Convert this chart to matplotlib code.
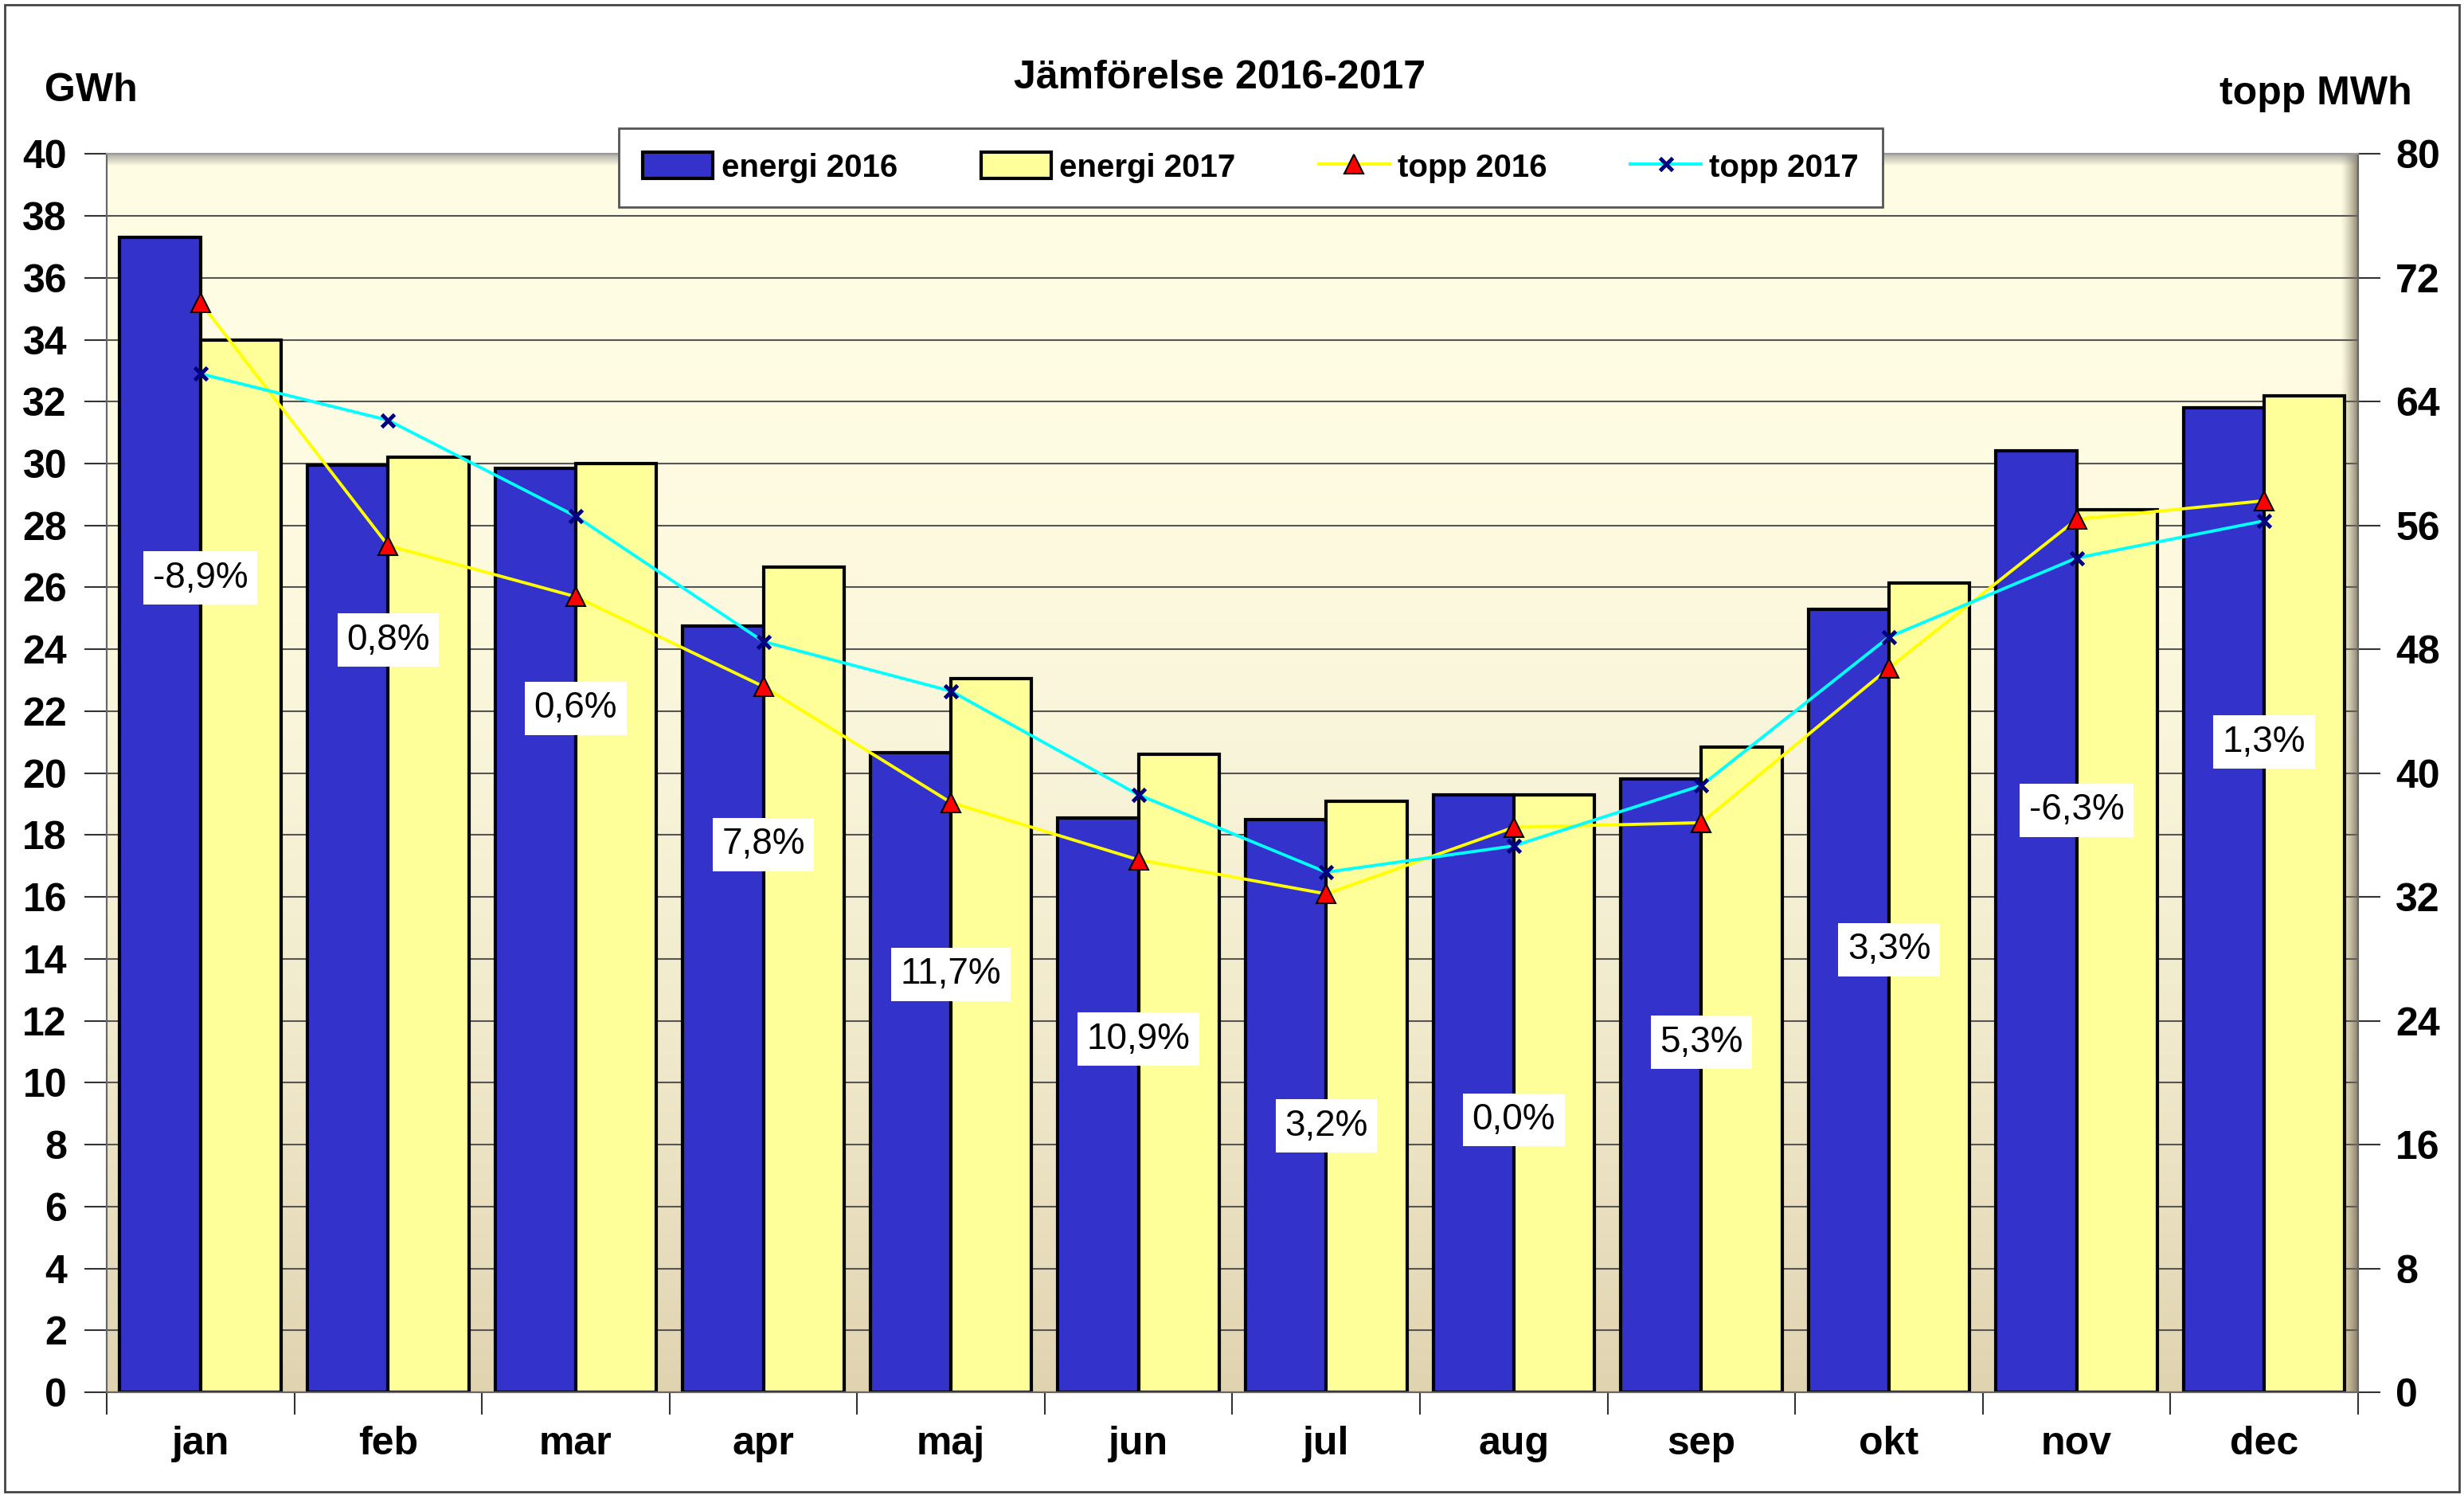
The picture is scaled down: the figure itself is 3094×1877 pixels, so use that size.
import matplotlib.pyplot as plt
import matplotlib.patches as mpatches
from matplotlib.lines import Line2D
import numpy as np

plt.rcParams['font.family'] = ['Liberation Sans', 'DejaVu Sans']

months = ['jan', 'feb', 'mar', 'apr', 'maj', 'jun', 'jul', 'aug', 'sep', 'okt', 'nov', 'dec']
energi_2016 = [37.3, 29.95, 29.85, 24.75, 20.65, 18.55, 18.5, 19.3, 19.8, 25.3, 30.4, 31.8]
energi_2017 = [34.0, 30.2, 30.0, 26.65, 23.05, 20.6, 19.1, 19.3, 20.85, 26.15, 28.5, 32.2]
topp_2016 = [70.4, 54.7, 51.4, 45.6, 38.1, 34.4, 32.2, 36.5, 36.8, 46.8, 56.4, 57.6]
topp_2017 = [65.8, 62.8, 56.6, 48.5, 45.3, 38.6, 33.6, 35.3, 39.2, 48.8, 53.9, 56.3]
pct_labels = ['-8,9%', '0,8%', '0,6%', '7,8%', '11,7%', '10,9%', '3,2%', '0,0%', '5,3%', '3,3%', '-6,3%', '1,3%']
pct_height = [26.3, 24.3, 22.1, 17.7, 13.5, 11.4, 8.6, 8.8, 11.3, 14.3, 18.8, 21.0]

fig = plt.figure(figsize=(30.94, 18.77), dpi=100)
ax = fig.add_axes([0.0433, 0.0687, 0.9137, 0.8283])
ax2 = ax.twinx()

x = np.arange(len(months))
w = 0.43

# background gradient of the plot area
t = np.linspace(0, 1, 256)[:, None] ** 2.2
top = np.array([1.0, 0.992, 0.894])
bot = np.array([0.878, 0.827, 0.690])
grad = top * (1 - t) + bot * t
ax.imshow(grad[:, None, :].repeat(2, axis=1), extent=[0, 1, 0, 1], transform=ax.transAxes,
          aspect='auto', zorder=0, interpolation='bilinear')

ax.bar(x - w / 2, energi_2016, w, color='#3333CC', edgecolor='black', linewidth=3, zorder=3)
ax.bar(x + w / 2, energi_2017, w, color='#FFFF99', edgecolor='black', linewidth=3, zorder=3)

ax.set_xlim(-0.5, 11.5)
ax.set_ylim(0, 40)
ax.set_yticks(np.arange(0, 41, 2))
ax.yaxis.grid(True, color='#555555', linewidth=1.5, zorder=1)
ax.set_axisbelow(True)
ax.set_xticks(np.arange(-0.5, 12, 1))
ax.set_xticklabels([])
ax.set_xticks(x, minor=True)
ax.set_xticklabels(months, minor=True, fontsize=36, fontweight='bold')
ax.tick_params(axis='x', which='major', length=20, width=1.5, color='#333333')
ax.tick_params(axis='x', which='minor', length=0, pad=30)
ax.tick_params(axis='y', length=20, width=1.5, labelsize=36, pad=16, color='#333333')
for lab in ax.get_yticklabels():
    lab.set_fontweight('bold')

# right shadow and top bevel of the plot area
shade = np.linspace(0, 1, 64)[None, :] ** 1.5
shadow = np.ones((2, 64, 4))
shadow[..., :3] = [0.45, 0.40, 0.32]
shadow[..., 3] = shade * 0.8
ax.imshow(shadow, extent=[0.992, 1.0, 0, 1], transform=ax.transAxes, aspect='auto', zorder=4)
topband = np.ones((16, 2, 4))
topband[..., :3] = 0.55
topband[..., 3] = np.linspace(0.7, 0, 16)[:, None]
ax.imshow(topband, extent=[0, 1, 0.99, 1.0], transform=ax.transAxes, aspect='auto', zorder=4)
ax.set_xlim(-0.5, 11.5)
ax.set_ylim(0, 40)

ax2.plot(x, topp_2016, color='#FFFF00', linewidth=2.8, marker='^', markersize=17,
         markerfacecolor='#FF0000', markeredgecolor='black', markeredgewidth=1.5, zorder=5)
ax2.plot(x, topp_2017, color='#00FFFF', linewidth=2.8, marker='x', markersize=11,
         markeredgecolor='#000080', markeredgewidth=3.5, zorder=5)
ax2.set_ylim(0, 80)
ax2.set_yticks(np.arange(0, 81, 8))
ax2.tick_params(axis='y', length=20, width=1.5, labelsize=36, pad=14, color='#333333')
for lab in ax2.get_yticklabels():
    lab.set_fontweight('bold')

for i in range(len(months)):
    ax2.text(x[i], pct_height[i], pct_labels[i], transform=ax.transData, ha='center', va='center',
             fontsize=33, zorder=6,
             bbox=dict(boxstyle='square,pad=0.25', facecolor='white', edgecolor='none'))

for a in (ax, ax2):
    for s in a.spines.values():
        s.set_color('#666666')
        s.set_linewidth(1.5)
    a.spines['top'].set_color('#999999')

fig.text(0.495, 0.948, 'Jämförelse 2016-2017', ha='center', va='center', fontsize=36, fontweight='bold')
fig.text(0.037, 0.939, 'GWh', ha='center', va='center', fontsize=36, fontweight='bold')
fig.text(0.940, 0.937, 'topp MWh', ha='center', va='center', fontsize=36, fontweight='bold')

handles = [mpatches.Patch(facecolor='#3333CC', edgecolor='black', linewidth=3),
           mpatches.Patch(facecolor='#FFFF99', edgecolor='black', linewidth=3),
           Line2D([], [], color='#FFFF00', linewidth=2.8, marker='^', markersize=17,
                  markerfacecolor='#FF0000', markeredgecolor='black', markeredgewidth=1.5),
           Line2D([], [], color='#00FFFF', linewidth=2.8, marker='x', markersize=11,
                  markeredgecolor='#000080', markeredgewidth=3.5)]
leg = fig.legend(handles, ['energi 2016', 'energi 2017', 'topp 2016', 'topp 2017'],
                 loc='center', bbox_to_anchor=(0.5075, 0.888), ncol=4,
                 prop={'weight': 'bold', 'size': 29}, frameon=True, fancybox=False,
                 framealpha=1, edgecolor='#555555', handlelength=2.2, handleheight=0.9,
                 columnspacing=2.6, handletextpad=0.25, borderpad=0.75, borderaxespad=0)
leg.get_frame().set_linewidth(2)
leg.set_zorder(10)

fig.patches.append(mpatches.Rectangle((0.002, 0.002), 0.996, 0.995, transform=fig.transFigure,
                                      fill=False, edgecolor='#444444', linewidth=2))

fig.savefig('out.png', dpi=100)
